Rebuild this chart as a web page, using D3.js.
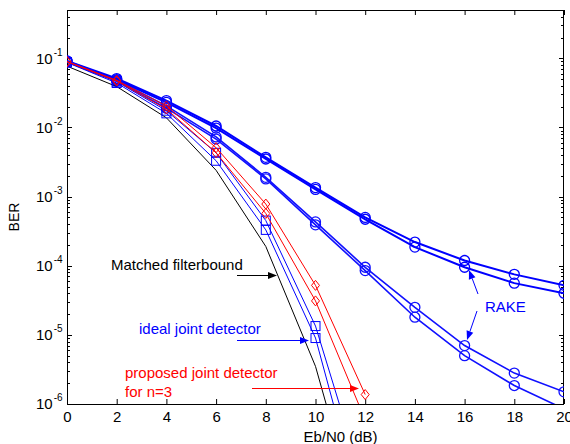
<!DOCTYPE html>
<html>
<head>
<meta charset="utf-8">
<script src="https://cdn.jsdelivr.net/npm/d3@7"></script>
<style>
  body { margin: 0; background: #fff; }
  text { font-family: "Liberation Sans", Arial, sans-serif; }
</style>
</head>
<body>
<svg id="chart" width="570" height="444"></svg>
<script>
// BER vs Eb/N0

const ebn0 = [0, 2, 4, 6, 8, 10, 12, 14, 16, 18, 20];

const matchedBound = [0.077, 0.039, 0.0138, 0.0024, 1.9e-4, 3.5e-6, 1e-8];
const idealJD1 = [0.088, 0.046, 0.0175, 0.0043, 4.5e-4, 1.34e-5, 6e-8];
const idealJD2 = [0.087, 0.044, 0.016, 0.0033, 3.3e-4, 9e-6, 2e-8];
const proposed1 = [0.09, 0.048, 0.0205, 0.0051, 7.8e-4, 5.2e-5, 1.37e-6];
const proposed2 = [0.089, 0.047, 0.0185, 0.0043, 5.7e-4, 3.1e-5, 5.9e-7];
const rakeA = [0.092, 0.051, 0.0245, 0.0105, 3.7e-3, 1.35e-3, 5.0e-4, 2.2e-4, 1.19e-4, 7.5e-5, 5.2e-5];
const rakeB = [0.091, 0.049, 0.023, 0.0098, 3.5e-3, 1.27e-3, 4.7e-4, 1.86e-4, 9.5e-5, 5.6e-5, 4.0e-5];
const rakeC = [0.09, 0.048, 0.0205, 0.0073, 1.9e-3, 4.3e-4, 9.5e-5, 2.5e-5, 7.0e-6, 2.8e-6, 1.5e-6];
const rakeD = [0.089, 0.047, 0.019, 0.0068, 1.8e-3, 3.9e-4, 8.5e-5, 1.8e-5, 5.0e-6, 1.85e-6, 8.5e-7];

const decades = [1e-1, 1e-2, 1e-3, 1e-4, 1e-5, 1e-6];
const decadeExp = ["-1", "-2", "-3", "-4", "-5", "-6"];

const svg = d3.select("#chart");
const margin = { left: 67, right: 6, top: 10, bottom: 40 };
const width = 570, height = 444;

const x = d3.scaleLinear().domain([0, 20]).range([margin.left, width - margin.right]);
const y = d3.scaleLog().domain([1e-6, 0.5]).range([height - margin.bottom, margin.top]);

const x0 = x.range()[0], x1 = x.range()[1];
const y0 = y.range()[0], y1 = y.range()[1];

svg.append("rect").attr("width", width).attr("height", height).attr("fill", "#fff");

svg.append("defs").append("clipPath").attr("id", "clip")
  .append("rect").attr("x", x0).attr("y", y1).attr("width", x1 - x0).attr("height", y0 - y1);

// ----- axes -----
const axisG = svg.append("g").attr("class", "axes");

const xBottom = d3.axisBottom(x).tickValues(ebn0).tickSizeInner(-5).tickSizeOuter(0).tickPadding(7);
axisG.append("g").attr("transform", `translate(0,${y0})`).call(xBottom)
  .call((g) => g.select(".domain").remove())
  .call((g) => g.selectAll("text").attr("font-size", 15).attr("font-family", "Liberation Sans, Arial").attr("fill", "#000"));

const xTop = d3.axisTop(x).tickValues(ebn0).tickSizeInner(-5).tickSizeOuter(0).tickFormat("");
axisG.append("g").attr("transform", `translate(0,${y1})`).call(xTop)
  .call((g) => g.select(".domain").remove());

// log ticks: majors at decades, minors at 2..9
const minorTicks = [];
for (let e = -6; e <= -1; e++) {
  for (let k = 2; k <= 9; k++) {
    const v = k * Math.pow(10, e);
    if (v <= 0.5) minorTicks.push(v);
  }
}

[[x0, 1], [x1, -1]].forEach(([xp, dir]) => {
  axisG.selectAll(null).data(decades).enter().append("line")
    .attr("x1", xp).attr("x2", xp + dir * 5)
    .attr("y1", (d) => Math.round(y(d)) + 0.5).attr("y2", (d) => Math.round(y(d)) + 0.5)
    .attr("stroke", "#000");
  axisG.selectAll(null).data(minorTicks).enter().append("line")
    .attr("x1", xp).attr("x2", xp + dir * 3)
    .attr("y1", (d) => Math.round(y(d)) + 0.5).attr("y2", (d) => Math.round(y(d)) + 0.5)
    .attr("stroke", "#000");
});

// y labels with superscript
const yLab = axisG.selectAll(".ylab").data(decades).enter().append("text")
  .attr("class", "ylab")
  .attr("x", 51).attr("y", (d) => y(d) + 5.3)
  .attr("text-anchor", "end")
  .attr("font-size", 15);
yLab.text("10");
axisG.selectAll(".ylab").append("tspan")
  .attr("dx", 1).attr("dy", -8).attr("font-size", 10)
  .text((d, i) => decadeExp[i]);
// tspan goes after end anchor; shift whole label to line up
axisG.selectAll(".ylab").attr("text-anchor", "start").attr("x", 36);

// frame
svg.append("rect")
  .attr("x", x0 + 0.5).attr("y", y1 + 0.5)
  .attr("width", x1 - x0 - 1).attr("height", y0 - y1)
  .attr("fill", "none").attr("stroke", "#000");

// axis titles
svg.append("text").attr("x", (x0 + x1) / 2 + 25).attr("y", 442)
  .attr("text-anchor", "middle").attr("font-size", 15).text("Eb/N0 (dB)");
svg.append("text").attr("transform", "translate(19,217) rotate(-90)")
  .attr("text-anchor", "middle").attr("font-size", 14).text("BER");

// ----- curves -----
const plotG = svg.append("g").attr("clip-path", "url(#clip)");
const line = d3.line().x((d) => x(d[0])).y((d) => y(Math.max(d[1], 1e-12)));

const series = [
  { vals: rakeA, color: "#0000ff", w: 2, marker: "circle" },
  { vals: rakeB, color: "#0000ff", w: 2, marker: "circle" },
  { vals: rakeC, color: "#1010ff", w: 1.6, marker: "circle" },
  { vals: rakeD, color: "#1010ff", w: 1.6, marker: "circle" },
  { vals: matchedBound, color: "#000", w: 1, marker: null },
  { vals: idealJD1, color: "#0000ff", w: 1, marker: "square" },
  { vals: idealJD2, color: "#0000ff", w: 1, marker: "square" },
  { vals: proposed1, color: "#ff0000", w: 1, marker: "diamond" },
  { vals: proposed2, color: "#ff0000", w: 1, marker: "diamond" },
];

series.forEach((s) => {
  const pts = s.vals.map((v, i) => [ebn0[i], v]);
  plotG.append("path").datum(pts)
    .attr("d", line).attr("fill", "none")
    .attr("stroke", s.color).attr("stroke-width", s.w);

  const shown = pts.filter((d) => d[1] >= 1e-6);
  const m = plotG.selectAll(null).data(shown).enter();
  if (s.marker === "circle") {
    m.append("circle").attr("cx", (d) => x(d[0])).attr("cy", (d) => y(d[1]))
      .attr("r", 5).attr("fill", "none").attr("stroke", s.color).attr("stroke-width", 1.3);
  } else if (s.marker === "square") {
    m.append("rect").attr("x", (d) => x(d[0]) - 4.5).attr("y", (d) => y(d[1]) - 4.5)
      .attr("width", 9).attr("height", 9).attr("fill", "none").attr("stroke", s.color);
  } else if (s.marker === "diamond") {
    m.append("path")
      .attr("d", (d) => {
        const cx = x(d[0]), cy = y(d[1]);
        return `M${cx},${cy - 5}L${cx + 4},${cy}L${cx},${cy + 5}L${cx - 4},${cy}Z`;
      })
      .attr("fill", "none").attr("stroke", s.color);
  }
});

// ----- annotations -----
const annG = svg.append("g");

function arrow(xa, ya, xb, yb, color) {
  const ang = Math.atan2(yb - ya, xb - xa);
  const len = 9, half = 3.5;
  const bx = xb - len * Math.cos(ang), by = yb - len * Math.sin(ang);
  annG.append("line").attr("x1", xa).attr("y1", ya).attr("x2", bx).attr("y2", by)
    .attr("stroke", color).attr("stroke-width", 1);
  const px = -Math.sin(ang) * half, py = Math.cos(ang) * half;
  annG.append("path")
    .attr("d", `M${xb},${yb}L${bx + px},${by + py}L${bx - px},${by - py}Z`)
    .attr("fill", color);
}

annG.append("text").attr("x", 111).attr("y", 270).attr("font-size", 15).attr("fill", "#000")
  .text("Matched filterbound");
arrow(237, 275.5, 277, 275.5, "#000");

annG.append("text").attr("x", 139).attr("y", 334).attr("font-size", 15).attr("fill", "#0000ff")
  .text("ideal joint detector");
arrow(237, 340.5, 309, 340.5, "#0000ff");

annG.append("text").attr("x", 125).attr("y", 378).attr("font-size", 15).attr("fill", "#ff0000")
  .text("proposed joint detector");
annG.append("text").attr("x", 125).attr("y", 397).attr("font-size", 15).attr("fill", "#ff0000")
  .text("for n=3");
arrow(252, 388.5, 359, 388.5, "#ff0000");

annG.append("text").attr("x", 485).attr("y", 312).attr("font-size", 15).attr("fill", "#0000ff")
  .text("RAKE");
arrow(478, 294, 469, 270, "#0000ff");
arrow(477, 311, 467, 340, "#0000ff");
</script>
</body>
</html>
